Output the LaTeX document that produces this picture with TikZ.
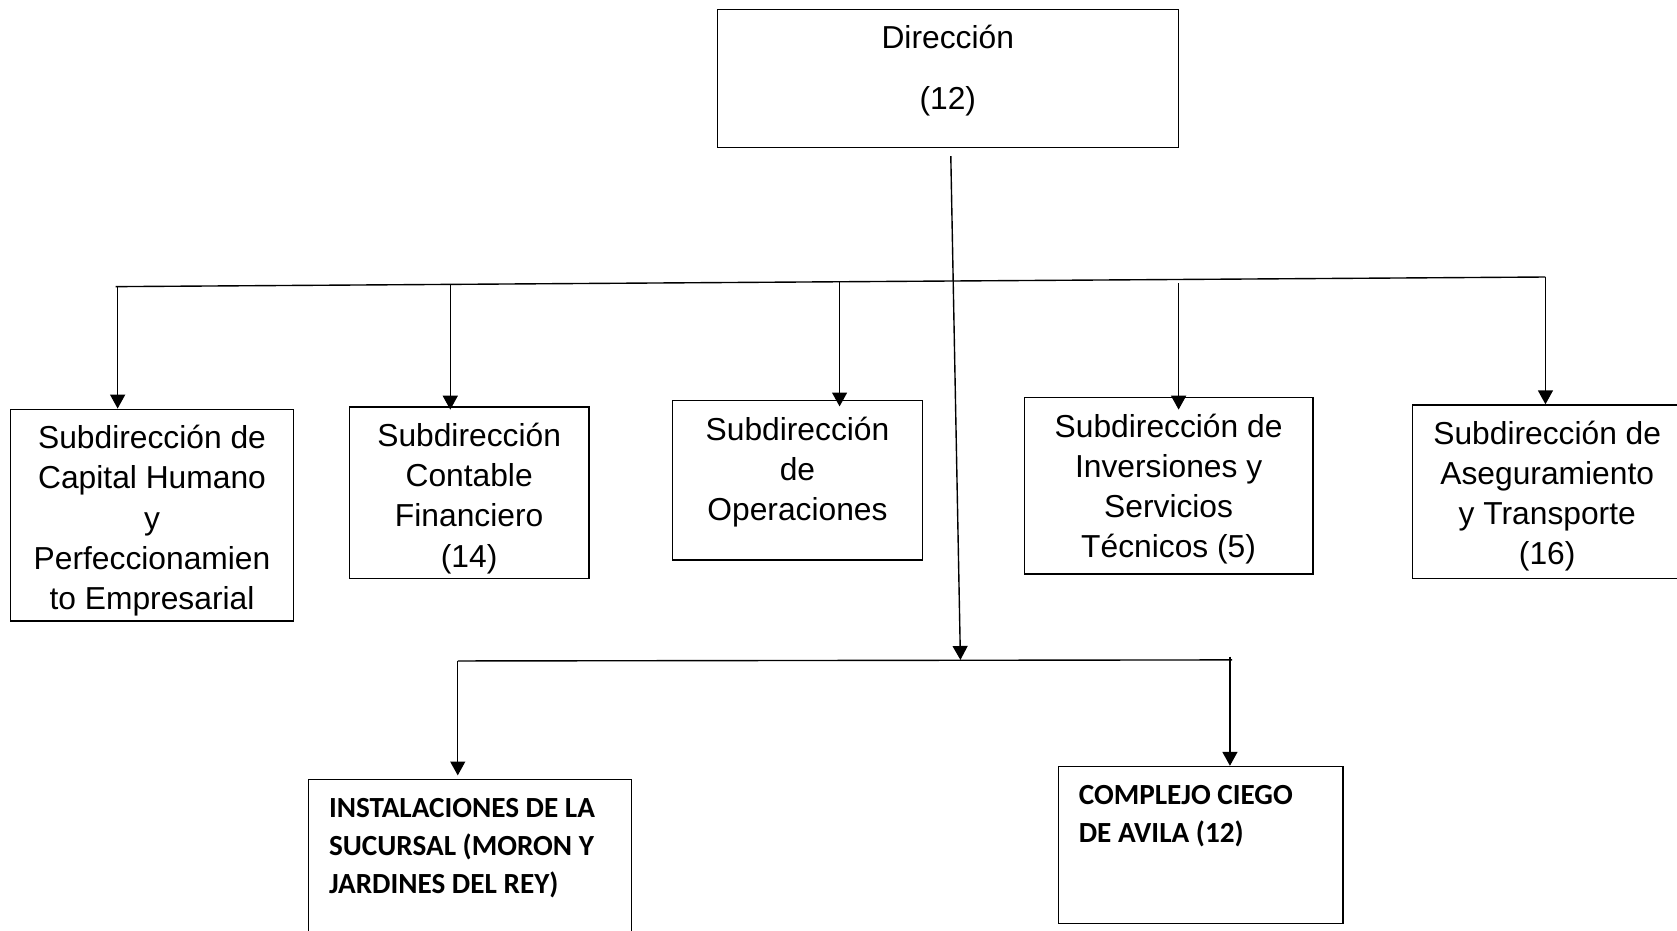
\documentclass[tikz,border=0pt]{standalone}
\usepackage{fontspec}
\setmainfont{Liberation Sans}
\newfontfamily\orgcalfont{Carlito}
\usetikzlibrary{arrows.meta,calc}
\tikzset{
  orgbox/.style={draw, line width=1.3pt, inner sep=0pt, anchor=north west},
  orgarr/.style={line width=1.3pt, -{Triangle[length=13pt,width=14pt]}},
  orgbus/.style={line width=1.3pt},
}
\newcommand{\orgC}[3]{\begin{minipage}[t][#2][t]{#1}\centering\fontsize{29.7pt}{37.5pt}\selectfont\rule{0pt}{37pt}#3\end{minipage}}
\newcommand{\orgL}[3]{\begin{minipage}[t][#2][t]{#1}\raggedright\leftskip=19pt\orgcalfont\bfseries\fontsize{27.3pt}{35.5pt}\selectfont\rule{0pt}{36pt}#3\end{minipage}}
\begin{document}
\begin{tikzpicture}[x=1pt,y=-1pt]
\useasboundingbox (0,0) rectangle (1568,870);
\clip (0,0) rectangle (1568,870);
% boxes
\node[orgbox] (dir) at (670,8) {\orgC{431pt}{129pt}{Dirección\\[19.5pt](12)}};
\node[orgbox] (b1) at (9,382) {\orgC{265pt}{198pt}{Subdirección de\\Capital Humano\\y\\Perfeccionamien\\to Empresarial}};
\node[orgbox] (b2) at (326,380) {\orgC{224pt}{160pt}{Subdirección\\Contable\\Financiero\\(14)}};
\node[orgbox] (b3) at (628,374) {\orgC{234pt}{149pt}{Subdirección\\de\\Operaciones}};
\node[orgbox] (b4) at (957,371) {\orgC{270pt}{165pt}{Subdirección de\\Inversiones y\\Servicios\\Técnicos (5)}};
\node[orgbox] (b5) at (1320,378) {\orgC{252pt}{162pt}{Subdirección de\\Aseguramiento\\y Transporte\\(16)}};
\node[orgbox] (bA) at (288,728) {\orgL{302pt}{175pt}{INSTALACIONES DE LA\\SUCURSAL (MORON Y\\JARDINES DEL REY)}};
\node[orgbox] (bB) at (989,716) {\orgL{266pt}{147pt}{COMPLEJO CIEGO\\DE AVILA (12)}};
% top bus
\coordinate (tL) at (108,268);
\coordinate (tR) at (1445,259);
\draw[orgbus] (tL) -- (tR);
\coordinate (d1) at (110,268);
\coordinate (d2) at (421,266);
\coordinate (d3) at (785,264);
\coordinate (d4) at (1102,265);
\coordinate (d5) at (1445,259);
\draw[orgarr] (d1) -- (d1 |- b1.north);
\draw[orgarr] (d2) -- ($(d2 |- b2.north)+(0,3)$);
\draw[orgarr] (d3) -- ($(d3 |- b3.north)+(0,6)$);
\draw[orgarr] (d4) -- ($(d4 |- b4.north)+(0,12)$);
\draw[orgarr] (d5) -- (d5 |- b5.north);
% diagonal from Direccion
\coordinate (dS) at (889,146);
\coordinate (dE) at (898,617);
\draw[orgarr] (dS) -- (dE);
% bottom bus
\coordinate (bl) at (428,618);
\coordinate (br) at (1152,617);
\draw[orgbus] (bl) -- (br);
\coordinate (bt) at (1150,614);
\draw[orgarr] (bl) -- ($(bl |- bA.north)+(0,-3)$);
\draw[orgarr] (bt) -- (bt |- bB.north);
\end{tikzpicture}
\end{document}
